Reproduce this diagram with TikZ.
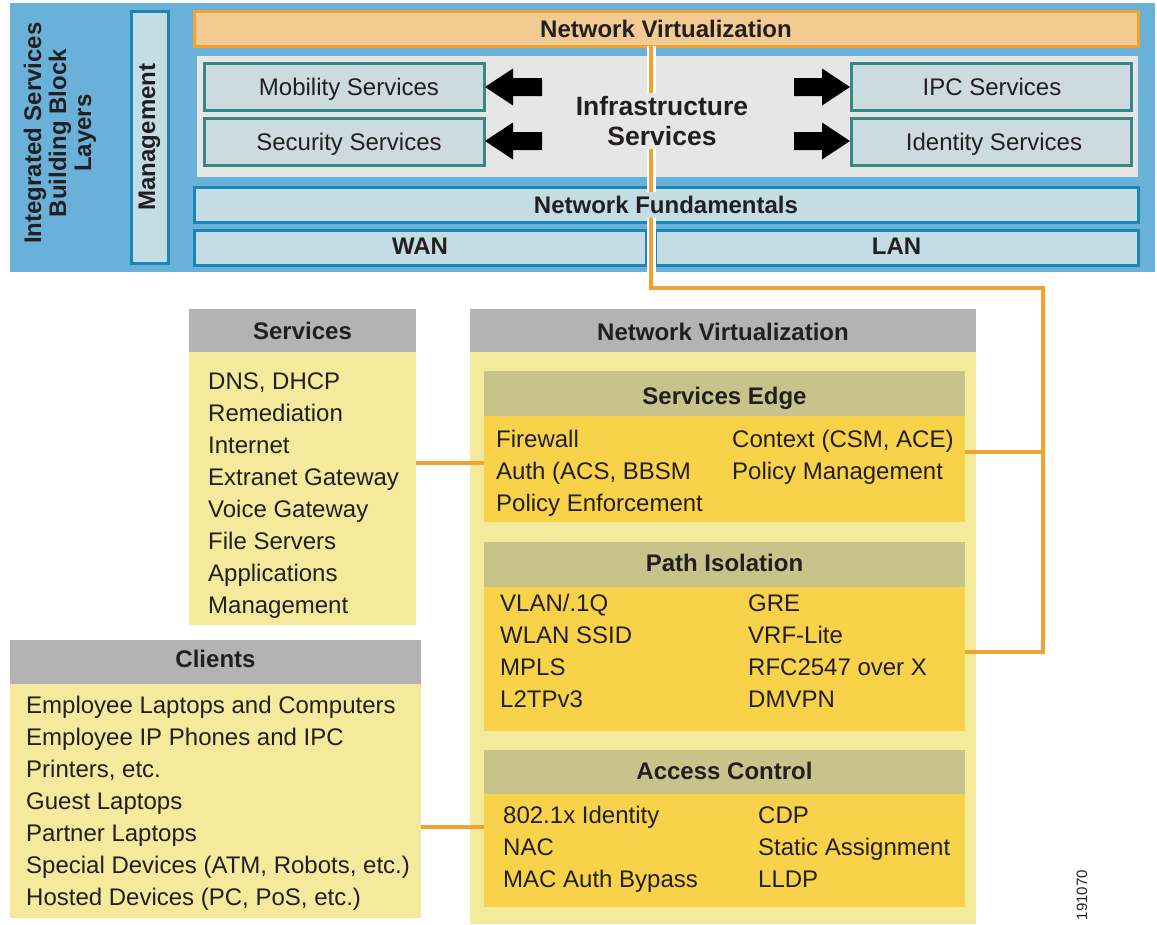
\documentclass[tikz,border=0pt]{standalone}
\usepackage{fontspec}
\setmainfont{Liberation Sans}
\usetikzlibrary{fit}
\definecolor{panelblue}{HTML}{6AB1D9}
\definecolor{mgmtfill}{HTML}{C4DCE4}
\definecolor{mgmtline}{HTML}{1A86B6}
\definecolor{nvfill}{HTML}{F2CB92}
\definecolor{orng}{HTML}{F0A232}
\definecolor{infragrey}{HTML}{E6E6E6}
\definecolor{svcfill}{HTML}{CCDBE0}
\definecolor{svcline}{HTML}{3A8585}
\definecolor{hdrgrey}{HTML}{B3B3B3}
\definecolor{ltyellow}{HTML}{F3EA9C}
\definecolor{khaki}{HTML}{C8C38B}
\definecolor{gold}{HTML}{F8D249}
\definecolor{txt}{HTML}{231F20}
\begin{document}
\begin{tikzpicture}[x=1pt,y=-1pt,
  box/.style={inner sep=0pt, outer sep=0pt, line width=3pt},
  bluebox/.style={box, fill=mgmtfill, draw=mgmtline},
  svcbox/.style={box, fill=svcfill, draw=svcline},
  svctxt/.style={inner sep=0pt, font=\fontsize{24}{28}\selectfont, text=txt, text height=17pt, text depth=0pt},
  hdr/.style={box, fill=hdrgrey},
  subhdr/.style={box, fill=khaki},
  hdrtxt/.style={inner sep=0pt, font=\fontsize{24}{28}\selectfont\bfseries, text=txt, text height=17pt, text depth=0pt},
  body/.style={box, fill=ltyellow},
  goldbody/.style={box, fill=gold},
  item/.style={anchor=base west, inner sep=0pt, font=\fontsize{24}{28}\selectfont, text=txt},
  btxt/.style={font=\fontsize{24}{28}\selectfont\bfseries, text=txt},
  conn/.style={draw=orng, line width=4pt},
  casing/.style={draw=white, line width=9pt},
  arrowshape/.style={fill=black}
]
\useasboundingbox (0,0) rectangle (1157,924);

% ---------- top panel ----------
\node[box, fill=panelblue, fit={(10,3) (1155,272)}] (panel) {};
\node[bluebox, fit={(131,11) (168,263)}] (mgmtbox) {};
\node[btxt, rotate=90] (mgmt) at (mgmtbox.center) {Management};
\node[btxt, rotate=90, align=center, font=\fontsize{24}{25}\selectfont\bfseries] (isbb) at (60,133)
  {Integrated Services\\Building Block\\Layers};

\node[box, fill=infragrey, fit={(197,56) (1138,177)}] (infra) {};
\node[box, fill=nvfill, draw=orng, fit={(194,11) (1138,46)}] (nvtop) {};
\node[hdrtxt] (nvtoptxt) at (nvtop.center) {Network Virtualization};

\node[svcbox, fit={(204,63) (484,110)}] (mob) {};
\node[svctxt] (mobt) at ([xshift=5]mob.center) {Mobility Services};
\node[svcbox, fit={(204,118) (484,165)}] (sec) {};
\node[svctxt] (sect) at ([xshift=5]sec.center) {Security Services};
\node[svcbox, fit={(851,63) (1131,110)}] (ipc) {};
\node[svctxt] (ipct) at ([xshift=1]ipc.center) {IPC Services};
\node[svcbox, fit={(851,118) (1131,165)}] (idn) {};
\node[svctxt] (idnt) at ([xshift=3]idn.center) {Identity Services};

% arrows
\foreach \c in {87,141} {
  \fill[arrowshape] (485,\c) -- (513,\c-18.5) -- (513,\c-9) -- (542,\c-9) -- (542,\c+9) -- (513,\c+9) -- (513,\c+18.5) -- cycle;
  \fill[arrowshape] (850,\c) -- (822,\c-18.5) -- (822,\c-9) -- (794,\c-9) -- (794,\c+9) -- (822,\c+9) -- (822,\c+18.5) -- cycle;
}

\node[bluebox, fit={(194,187) (1138,222)}] (nf) {};
\node[bluebox, fit={(194,230) (646,265)}] (wan) {};
\node[hdrtxt] (want) at ([yshift=1.5]wan.center) {WAN};
\node[bluebox, fit={(655,230) (1138,265)}] (lan) {};
\node[hdrtxt] (lant) at ([yshift=1.5]lan.center) {LAN};

% ---------- lower blocks ----------
\node[hdr, fit={(189,309) (416,352)}] (svhdr) {};
\node[hdrtxt] (svhdrt) at ([yshift=-0.5]svhdr.center) {Services};
\node[body, fit={(189,352) (416,625)}] (svbody) {};

\node[hdr, fit={(10,640) (421,684)}] (clhdr) {};
\node[hdrtxt] (clhdrt) at ([yshift=3]clhdr.center) {Clients};
\node[body, fit={(10,684) (421,918)}] (clbody) {};

\node[hdr, fit={(470,309) (976,352)}] (nvhdr) {};
\node[hdrtxt] (nvhdrt) at ([yshift=-1.5]nvhdr.center) {Network Virtualization};
\node[body, fit={(470,352) (976,924)}] (nvbody) {};

\node[subhdr, fit={(484,371) (965,416)}] (sehdr) {};
\node[hdrtxt] (sehdrt) at ([yshift=-2.5]sehdr.center) {Services Edge};
\node[goldbody, fit={(484,416) (965,522)}] (sebody) {};

\node[subhdr, fit={(484,542) (965,587)}] (pihdr) {};
\node[hdrtxt] (pihdrt) at ([yshift=1.5]pihdr.center) {Path Isolation};
\node[goldbody, fit={(484,587) (965,731)}] (pibody) {};

\node[subhdr, fit={(484,750) (965,794)}] (achdr) {};
\node[hdrtxt] (achdrt) at ([yshift=1]achdr.center) {Access Control};
\node[goldbody, fit={(484,794) (965,907)}] (acbody) {};

% ---------- list texts ----------
\foreach \t [count=\i from 0] in {{DNS, DHCP},Remediation,Internet,{Extranet Gateway},{Voice Gateway},{File Servers},Applications,Management}
  \node[item] (sv\i) at (208,{389.6+32*\i}) {\t};
\foreach \t [count=\i from 0] in {{Employee Laptops and Computers},{Employee IP Phones and IPC},{Printers, etc.},{Guest Laptops},{Partner Laptops},{Special Devices (ATM, Robots, etc.)},{Hosted Devices (PC, PoS, etc.)}}
  \node[item] (cl\i) at (26,{713.6+32*\i}) {\t};
\foreach \t [count=\i from 0] in {Firewall,{Auth (ACS, BBSM},{Policy Enforcement}}
  \node[item] (sel\i) at (496,{447.6+32*\i}) {\t};
\foreach \t [count=\i from 0] in {{Context (CSM, ACE)},{Policy Management}}
  \node[item] (ser\i) at (732,{447.6+32*\i}) {\t};
\foreach \t [count=\i from 0] in {VLAN/.1Q,{WLAN SSID},MPLS,L2TPv3}
  \node[item] (pil\i) at (500,{611.6+32*\i}) {\t};
\foreach \t [count=\i from 0] in {GRE,VRF-Lite,{RFC2547 over X},DMVPN}
  \node[item] (pir\i) at (748,{611.6+32*\i}) {\t};
\foreach \t [count=\i from 0] in {{802.1x Identity},NAC,{MAC Auth Bypass}}
  \node[item] (acl\i) at (503,{823.6+32*\i}) {\t};
\foreach \t [count=\i from 0] in {CDP,{Static Assignment},LLDP}
  \node[item] (acr\i) at (758,{823.6+32*\i}) {\t};

% ---------- connectors ----------
\coordinate (j1) at (651,288);
\coordinate (j2) at (1043,288);
\coordinate (j3) at (1043,452);
\coordinate (j4) at (1043,652);
\draw[casing] (nvtop.south -| j1) -- (651,272);
\draw[conn] (nvtop.south -| j1) -- (j1) -- (j2) -- (j4) -- (pibody.east |- j4);
\draw[conn] (sebody.east |- j3) -- (j3);
\coordinate (l1) at (450,463);
\coordinate (l2) at (450,827);
\draw[conn] (svbody.east |- l1) -- (sebody.west |- l1);
\draw[conn] (clbody.east |- l2) -- (acbody.west |- l2);

% texts that sit over the connector
\node[btxt, align=center, fill=infragrey, inner sep=3pt, font=\fontsize{26.5}{30}\selectfont\bfseries] (infrat) at (662,121) {Infrastructure\\Services};
\node[btxt, fill=mgmtfill, inner xsep=1pt, inner ysep=4pt] (nft) at ([yshift=-0.5]nf.center) {Network Fundamentals};

\node[rotate=90, font=\fontsize{15}{16}\selectfont, text=txt] (fig) at (1082,895) {191070};
\end{tikzpicture}
\end{document}
